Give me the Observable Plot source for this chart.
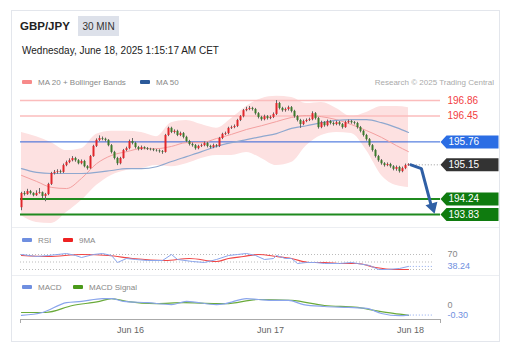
<!DOCTYPE html>
<html><head><meta charset="utf-8">
<script src="https://cdn.jsdelivr.net/npm/d3@7"></script>
<script src="https://cdn.jsdelivr.net/npm/@observablehq/plot@0.6"></script>
<style>
body{margin:0;background:#fff;font-family:"Liberation Sans",Arial,sans-serif;}
#root{position:relative;width:518px;height:353px;overflow:hidden;background:#fff;}
#root svg.plot{position:absolute;left:0;}
</style></head><body><div id="root"></div>
<script>
// ---------- DATA ----------
const symbolName = "GBP/JPY";
const timeframe = "30 MIN";
const stamp = "Wednesday, June 18, 2025 1:15:17 AM CET";
const credit = "Research © 2025 Trading Central";

const firstOpen = 194.01;
const closes = [194.39,194.36,194.44,194.39,194.33,194.39,194.41,194.31,194.36,194.63,
194.92,194.95,194.97,194.95,195.13,195.21,195.26,195.32,195.26,195.18,
195.24,195.10,195.05,195.37,195.64,195.80,195.85,195.83,195.80,195.66,
195.48,195.32,195.18,195.32,195.53,195.58,195.77,195.72,195.61,195.56,
195.61,195.58,195.56,195.55,195.53,195.52,195.50,195.48,195.93,196.12,
196.01,196.04,195.93,195.98,195.88,195.77,195.69,195.66,195.58,195.64,
195.66,195.72,195.64,195.61,195.66,195.64,195.85,195.96,195.98,196.12,
196.14,196.17,196.33,196.43,196.59,196.62,196.65,196.62,196.51,196.41,
196.35,196.43,196.38,196.41,196.49,196.78,196.65,196.59,196.62,196.67,
196.57,196.43,196.33,196.22,196.30,196.33,196.35,196.51,196.38,196.14,
196.27,196.19,196.30,196.25,196.22,196.27,196.22,196.14,196.27,196.30,
196.27,196.25,196.14,196.04,195.93,195.82,195.66,195.53,195.37,195.26,
195.18,195.13,195.16,195.10,195.03,195.08,194.97,195.05,195.13,195.15];
const highs = [194.42,194.44,194.50,194.47,194.41,194.46,194.52,194.43,194.39,194.66,
194.95,195.00,195.02,195.01,195.17,195.25,195.31,195.37,195.35,195.29,
195.28,195.27,195.13,195.40,195.67,195.84,195.92,195.89,195.86,195.82,
195.69,195.51,195.35,195.35,195.56,195.62,195.81,195.85,195.75,195.64,
195.65,195.63,195.61,195.59,195.58,195.56,195.55,195.53,195.96,196.15,
196.15,196.08,196.07,196.02,196.01,195.91,195.80,195.73,195.69,195.67,
195.70,195.76,195.75,195.67,195.70,195.69,195.88,195.99,196.02,196.15,
196.18,196.21,196.36,196.46,196.62,196.68,196.70,196.68,196.65,196.54,
196.44,196.47,196.46,196.45,196.53,196.86,196.81,196.68,196.66,196.71,
196.70,196.60,196.46,196.36,196.34,196.37,196.39,196.56,196.54,196.41,
196.31,196.30,196.34,196.33,196.29,196.31,196.30,196.25,196.31,196.34,
196.33,196.30,196.28,196.17,196.07,195.96,195.85,195.69,195.56,195.40,
195.29,195.21,195.20,195.19,195.13,195.12,195.11,195.09,195.17,195.18];
const lows = [193.93,194.32,194.34,194.35,194.30,194.31,194.37,194.25,194.17,194.33,
194.60,194.88,194.90,194.91,194.92,195.10,195.18,195.23,195.22,195.15,
195.15,195.07,195.01,195.03,195.35,195.61,195.77,195.79,195.76,195.63,
195.44,195.28,195.13,195.15,195.30,195.50,195.55,195.68,195.57,195.52,
195.53,195.55,195.53,195.52,195.50,195.49,195.46,195.43,195.46,195.90,
195.98,195.97,195.90,195.90,195.84,195.74,195.65,195.62,195.54,195.55,
195.61,195.63,195.60,195.57,195.58,195.60,195.61,195.82,195.93,195.95,
196.09,196.11,196.14,196.30,196.40,196.56,196.59,196.58,196.47,196.37,
196.31,196.32,196.34,196.35,196.38,196.46,196.61,196.55,196.55,196.58,
196.53,196.39,196.29,196.12,196.19,196.27,196.30,196.32,196.34,196.10,
196.11,196.15,196.16,196.21,196.18,196.19,196.18,196.10,196.12,196.24,
196.23,196.21,196.10,196.00,195.89,195.78,195.62,195.49,195.33,195.22,
195.14,195.09,195.10,195.06,194.99,194.98,194.93,194.94,195.02,195.11];

// indicator samples (candle index -> value)
const lineIdx = [0,5,10,15,20,25,30,35,40,45,50,55,60,65,70,75,80,85,90,95,100,105,110,115,120,125,129];
const bbUpper = [196.01,195.90,195.74,195.53,195.58,195.96,196.04,196.04,196.01,195.90,196.27,196.33,196.22,196.12,196.38,196.70,196.91,196.97,196.94,196.78,196.81,196.65,196.43,196.54,196.70,196.70,196.67];
const bbLower = [193.80,193.62,193.59,193.88,194.20,194.60,194.87,195.00,195.05,195.13,195.10,195.18,195.32,195.40,195.40,195.48,195.32,195.13,195.21,195.66,195.93,196.01,195.98,195.53,194.87,194.60,194.55];
const ma20 = [194.87,194.71,194.55,194.52,194.79,195.18,195.40,195.50,195.58,195.58,195.64,195.74,195.74,195.85,195.96,196.09,196.19,196.30,196.41,196.46,196.43,196.35,196.22,196.06,195.88,195.66,195.50];
const ma50 = [195.05,194.95,194.92,194.92,194.92,194.95,195.00,195.05,195.05,195.10,195.24,195.37,195.50,195.64,195.74,195.82,195.90,195.98,196.12,196.19,196.27,196.33,196.35,196.35,196.27,196.14,196.01];

const resistValues = [196.86, 196.45];
const badgeValues = [195.76, 195.15, 194.24, 193.83];
const badgeColors = ["#2b6de4", "#333333", "#0f7b0f", "#0f7b0f"];
const lastPrice = 195.15;

// forecast arrow (candle index, price)
const arrowIdx = [129.8, 133.3, 136.4];
const arrowVal = [195.15, 195.05, 194.12];
const arrowHeadIdx = [137.0];
const arrowHeadVal = [194.03];

const rsiIdx = [0,5,9,15,18,20,24,27,30,32,35,38,42,47,50,52,57,61,65,69,72,75,78,81,84,85,88,90,92,95,98,101,106,110,112,116,119,122,126,129];
const rsiVal = [70,64.7,67.3,72.7,67.3,62,70,72.7,67.3,48.7,59.3,56.7,54,54,70,56.7,51.3,48.7,56.7,67.3,70,72.7,67.3,56.7,59.3,67.3,59.3,59.3,46,48.7,48.7,46,46,48.7,46,40.7,30,30,32.7,38.24];
const ma9Idx = [0,9,20,29,37,48,56,65,69,74,79,85,90,96,101,107,112,118,124,129];
const ma9Val = [67.3,64.7,70,67.3,59.3,54,59.3,51.3,59.3,64.7,70,64.7,59.3,48.7,48.7,46,46,35.3,30,30];
const rsiGuides = [70, 50, 30];
const rsiLabels = [70, 38.24];

const macdIdx = [0,7,15,20,27,30,34,42,50,55,65,68,75,79,84,89,94,101,109,115,120,126,129];
const macdVal = [-0.31,-0.22,0.09,0.13,0.22,0.22,0.13,0.09,0.03,0.13,0.03,0.06,0.22,0.19,0.16,0.16,0.03,-0.03,-0.06,-0.09,-0.25,-0.32,-0.30];
const sigIdx = [0,8,17,26,30,35,45,54,65,68,79,90,101,112,118,124,129];
const sigVal = [-0.22,-0.22,0,0.13,0.22,0.13,0.06,0.09,0.06,0.06,0.19,0.16,0,-0.06,-0.16,-0.25,-0.31];
const macdLabels = [0, -0.30];

const dayTicks = [36.3, 83, 129.7];
const dayLabels = ["Jun 16", "Jun 17", "Jun 18"];

// ---------- LAYOUT ----------
const FONT = '"Liberation Sans", Arial, sans-serif';
const W = 518;
const xDom = [-1/3, 139 + 2/3];
const ML = 20, MR = 78;
const root = d3.select("#root");

const bg = root.append("svg").attr("width", W).attr("height", 353)
  .style("position","absolute").style("left","0").style("top","0")
  .style("font-family", FONT);
bg.append("rect").attr("x",11.5).attr("y",10.5).attr("width",488).attr("height",331)
  .attr("fill","#fff").attr("stroke","#e3e6ec");
[227.5, 275.5].forEach(y => bg.append("line").attr("x1",12).attr("x2",499).attr("y1",y).attr("y2",y).attr("stroke","#eceef2"));
function txt(s, x, y, size, color, opts = {}) {
  const t = bg.append("text").attr("x", x).attr("y", y).attr("font-size", size).attr("fill", color).text(s);
  if (opts.weight) t.attr("font-weight", opts.weight);
  if (opts.anchor) t.attr("text-anchor", opts.anchor);
  return t;
}
function sw(x, y, color) { bg.append("rect").attr("x",x).attr("y",y).attr("width",10).attr("height",4).attr("rx",1).attr("fill",color); }
txt(symbolName, 20, 30, 11.5, "#222", {weight: "bold"});
bg.append("rect").attr("x",78).attr("y",16).attr("width",41).attr("height",20).attr("fill","#dde1ea");
txt(timeframe, 98.5, 29.5, 10, "#333", {anchor: "middle"});
txt(stamp, 22, 54, 10, "#222");
sw(22, 80, "#f78a8a"); txt("MA 20 + Bollinger Bands", 38, 84.5, 8, "#888");
sw(140, 80, "#2c5a9a"); txt("MA 50", 156, 84.5, 8, "#888");
txt(credit, 494, 84.5, 8, "#aaa", {anchor: "end"});
sw(22, 238, "#6f8fe0"); txt("RSI", 38, 243, 8, "#888");
sw(63, 238, "#ee2222"); txt("9MA", 79, 243, 8, "#888");
sw(22, 285, "#6f8fe0"); txt("MACD", 38, 290, 8, "#888");
sw(73, 285, "#4a9a1a"); txt("MACD Signal", 89, 290, 8, "#888");

// ---------- DERIVED ROWS ----------
const candles = closes.map((c, i) => ({i, open: i === 0 ? firstOpen : closes[i-1], close: c, high: highs[i], low: lows[i]}));
const lineRows = lineIdx.map((i, k) => ({i, up: bbUpper[k], lo: bbLower[k], ma20: ma20[k], ma50: ma50[k]}));
const badges = badgeValues.map((v, k) => ({v, color: badgeColors[k]}));
const arrowRows = arrowIdx.map((i, k) => ({i, v: arrowVal[k]}));
const headRows = arrowHeadIdx.map((i, k) => ({i, v: arrowHeadVal[k]}));
const rsiRows = rsiIdx.map((i, k) => ({i, v: rsiVal[k]}));
const ma9Rows = ma9Idx.map((i, k) => ({i, v: ma9Val[k]}));
const macdRows = macdIdx.map((i, k) => ({i, v: macdVal[k]}));
const sigRows = sigIdx.map((i, k) => ({i, v: sigVal[k]}));

const badgeSymbol = {draw(ctx) { ctx.moveTo(0,0); ctx.lineTo(6,-6.5); ctx.lineTo(58,-6.5); ctx.lineTo(58,6.5); ctx.lineTo(6,6.5); ctx.closePath(); }};
const RED = "#e0262b", GREEN = "#3c7a2d";
const common = {width: W, marginLeft: ML, marginRight: MR, marginTop: 0,
  style: {fontFamily: FONT, overflow: "visible", background: "transparent"}};

// ---------- MAIN ----------
const main = Plot.plot({...common, height: 138, marginBottom: 0,
  x: {domain: xDom, axis: null},
  y: {domain: [193.458, 197.126], axis: null},
  color: {type: "identity"},
  marks: [
    Plot.areaY(lineRows, {x: "i", y1: "lo", y2: "up", fill: "#fde1e1", curve: "monotone-x"}),
    Plot.ruleY(resistValues, {stroke: "#fbbcbc", strokeWidth: 1.5}),
    Plot.ruleY([badgeValues[0]], {stroke: "#2f62d8", strokeWidth: 1}),
    Plot.ruleY(badgeValues.slice(2), {stroke: "#1f8a1f", strokeWidth: 2}),
    Plot.line(lineRows, {x: "i", y: "ma20", stroke: "#f4a0a0", strokeWidth: 1, curve: "monotone-x"}),
    Plot.line(lineRows, {x: "i", y: "ma50", stroke: "#8fa8cf", strokeWidth: 1.2, curve: "monotone-x"}),
    Plot.ruleX(candles, {x: "i", y1: "low", y2: "high", stroke: "#666", strokeWidth: 1}),
    Plot.ruleX(candles, {x: "i", y1: "open", y2: "close", stroke: d => d.close >= d.open ? RED : GREEN, strokeWidth: 2}),
    Plot.ruleY([lastPrice], {x1: 129.6, x2: xDom[1], stroke: "#999", strokeDasharray: "1,2"}),
    Plot.line(arrowRows, {x: "i", y: "v", stroke: "#2f5fa5", strokeWidth: 3, strokeLinejoin: "round"}),
    Plot.dot(headRows, {x: "i", y: "v", symbol: "triangle", r: 4.6, rotate: 163, fill: "#2f5fa5", stroke: "none"}),
    Plot.text(resistValues, {y: d => d, text: d => d.toFixed(2), frameAnchor: "right", textAnchor: "start", dx: 7, fill: "#f2403f", fontSize: 10}),
    Plot.dot(badges, {y: "v", frameAnchor: "right", symbol: badgeSymbol, fill: "color", stroke: "none"}),
    Plot.text(badges, {y: "v", text: d => d.v.toFixed(2), frameAnchor: "right", textAnchor: "start", dx: 8, fill: "white", fontSize: 10})
  ]});
main.classList.add("plot"); main.style.top = "90px";
root.node().appendChild(main);

// ---------- RSI ----------
const rsi = Plot.plot({...common, height: 30, marginBottom: 0,
  x: {domain: xDom, axis: null},
  y: {domain: [14, 94], axis: null},
  marks: [
    Plot.ruleY(rsiGuides, {x1: xDom[0], x2: 137, stroke: "#bbb", strokeDasharray: "1,2"}),
    Plot.ruleY([rsiVal[rsiVal.length-1]], {x1: 129.6, x2: 137, stroke: "#8aa5ec", strokeDasharray: "1,2"}),
    Plot.line(ma9Rows, {x: "i", y: "v", stroke: "#f04646", strokeWidth: 1.2, curve: "monotone-x"}),
    Plot.line(rsiRows, {x: "i", y: "v", stroke: "#8aa5ec", strokeWidth: 1}),
    Plot.text(rsiLabels, {y: d => d, text: d => String(d), frameAnchor: "right", textAnchor: "start", dx: 7,
      fill: (d, k) => k === 0 ? "#888" : "#6f8fe0", fontSize: 9})
  ]});
rsi.classList.add("plot"); rsi.style.top = "245px";
root.node().appendChild(rsi);

// ---------- MACD ----------
const macdDom = [-0.44, 0.473];
const macd = Plot.plot({...common, height: 45, marginBottom: 16,
  x: {domain: xDom, label: null},
  y: {domain: macdDom, axis: null},
  marks: [
    Plot.ruleY([macdVal[macdVal.length-1]], {x1: 129.6, x2: 137, stroke: "#8aa5ec", strokeDasharray: "1,2"}),
    Plot.line(sigRows, {x: "i", y: "v", stroke: "#6aaa3a", strokeWidth: 1.2, curve: "monotone-x"}),
    Plot.line(macdRows, {x: "i", y: "v", stroke: "#8aa5ec", strokeWidth: 1.2, curve: "monotone-x"}),
    Plot.text(macdLabels, {y: d => d, text: d => d === 0 ? "0" : d.toFixed(2), frameAnchor: "right", textAnchor: "start", dx: 7,
      fill: (d, k) => k === 0 ? "#888" : "#6f8fe0", fontSize: 9}),
    Plot.ruleY([macdDom[0]], {stroke: "#aaa"}),
    Plot.axisX({ticks: xDom, tickSize: 4, tickFormat: () => "", stroke: "#aaa", label: null}),
    Plot.axisX({ticks: dayTicks, tickSize: 0, tickPadding: 7, fontSize: 9, fill: "#666", label: null,
      tickFormat: d => dayLabels[dayTicks.indexOf(d)]})
  ]});
macd.classList.add("plot"); macd.style.top = "290px";
root.node().appendChild(macd);
</script></body></html>
